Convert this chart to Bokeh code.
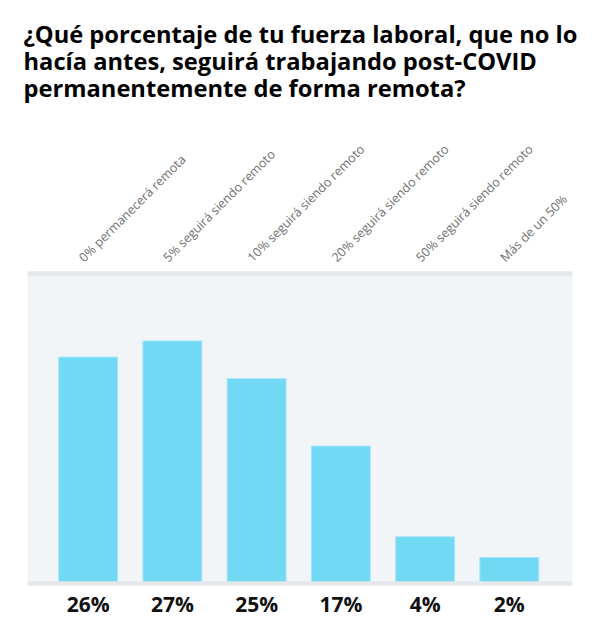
import math
from bokeh.plotting import figure
from bokeh.layouts import column
from bokeh.models import Range1d, FixedTicker, LinearAxis, Title
from bokeh.embed import file_html
from bokeh.resources import INLINE

categories = [
    "0% permanecerá remota",
    "5% seguirá siendo remoto",
    "10% seguirá siendo remoto",
    "20% seguirá siendo remoto",
    "50% seguirá siendo remoto",
    "Más de un 50%",
]
bar_values = [25.2, 27.0, 22.8, 15.3, 5.2, 2.9]
value_labels = ["26%", "27%", "25%", "17%", "4%", "2%"]
title_lines = [
    "¿Qué porcentaje de tu fuerza laboral, que no lo",
    "hacía antes, seguirá trabajando post-COVID",
    "permanentemente de forma remota?",
]

positions = list(range(len(categories)))

# ---- title block -------------------------------------------------------
TITLE_H = 110
ft = figure(
    width=611, height=TITLE_H,
    output_backend="svg", toolbar_location=None,
    x_axis_location=None, y_axis_location=None, title=None,
    min_border_left=27, min_border_right=39,
    min_border_top=100, min_border_bottom=0,
)
ft.outline_line_color = None
ft.grid.visible = False
ft.background_fill_color = "white"
ft.border_fill_color = "white"
for line in reversed(title_lines):
    ft.add_layout(Title(text=line, text_font="Open Sans", text_font_size="23.7px",
                        text_font_style="bold", text_color="#000000",
                        align="left", offset=-4, standoff=-7), "above")

# ---- chart -------------------------------------------------------------
MAIN_H = 630 - TITLE_H
p = figure(
    width=611, height=MAIN_H,
    x_range=Range1d(-0.72, 5.75), y_range=Range1d(0, 34.5),
    output_backend="svg", toolbar_location=None,
    x_axis_location=None, y_axis_location=None,
    title=None,
    min_border_left=27, min_border_right=39,
    min_border_top=273 - TITLE_H, min_border_bottom=47,
)
p.background_fill_color = "#f2f5f8"
p.border_fill_color = "white"
p.outline_line_color = None
p.grid.visible = False

p.vbar(x=positions, top=bar_values, width=0.70, bottom=0,
       fill_color="#72d9f5", line_color="#a6e7f9", line_width=1)

# category labels above, nudged slightly left like the reference
p.extra_x_ranges = {"labels": Range1d(-0.637, 5.833)}
xa = LinearAxis(
    x_range_name="labels",
    ticker=FixedTicker(ticks=positions),
    major_label_overrides={i: c for i, c in enumerate(categories)},
    major_label_orientation=math.pi / 4,
    major_label_text_font="Open Sans",
    major_label_text_font_size="12.5px",
    major_label_text_color="#707070",
    major_label_standoff=8,
    major_tick_line_color=None,
    minor_tick_line_color=None,
    axis_line_color="#e4e7eb",
    axis_line_width=4.5,
)
p.add_layout(xa, "above")

xb = LinearAxis(
    ticker=FixedTicker(ticks=positions),
    major_label_overrides={i: v for i, v in enumerate(value_labels)},
    major_label_text_font="Open Sans",
    major_label_text_font_size="21px",
    major_label_text_font_style="bold",
    major_label_text_color="#111111",
    major_label_standoff=0,
    major_tick_line_color=None,
    minor_tick_line_color=None,
    axis_line_color="#e4e7eb",
    axis_line_width=4.5,
)
p.add_layout(xb, "below")

layout = column(ft, p, spacing=0)
open("out.html", "w").write(file_html(layout, INLINE))
